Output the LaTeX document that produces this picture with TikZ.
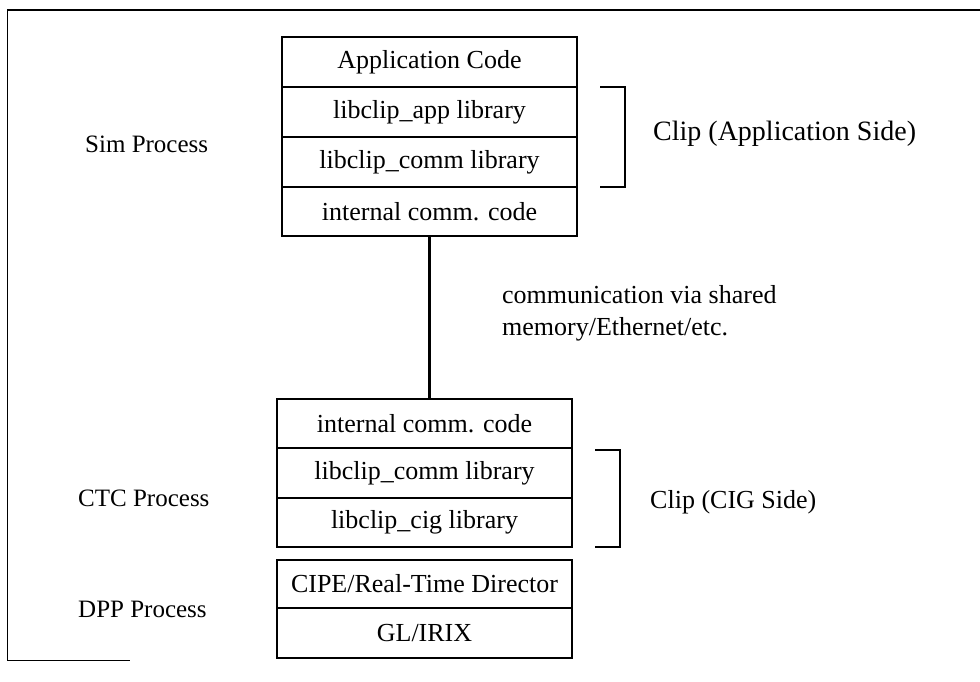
\documentclass[tikz,border=0pt]{standalone}
\usepackage{fontspec}
\setmainfont{Liberation Serif}
\begin{document}
\begin{tikzpicture}[x=1pt,y=-1pt,
  layer/.style={draw, line width=2.6pt, minimum width=295pt, inner sep=0pt, font=\fontsize{26}{30}\selectfont},
  lbl/.style={anchor=west, inner sep=0pt, font=\fontsize{26}{30}\selectfont},
  plbl/.style={anchor=west, inner sep=0pt, font=\fontsize{25}{30}\selectfont},
  brk/.style={line width=2.6pt}]
\useasboundingbox (0,0) rectangle (980,681);
% frame
\draw[line width=2.5pt] (7,10) -- (980,10);
\draw[line width=1pt] (7,10) -- (7,660) -- (130,660);
% top stack
\node[layer, minimum height=50pt] (app) at (429.5,62) {Application Code};
\node[layer, minimum height=50pt] (libapp) at (429.5,112) {libclip\_app library};
\node[layer, minimum height=50pt] (libcomm1) at (429.5,162) {libclip\_comm library};
\node[layer, minimum height=49pt] (int1) at (429.5,211.5) {internal comm. code};
% bottom stack
\node[layer, minimum height=49pt] (int2) at (424.5,423.5) {internal comm. code};
\node[layer, minimum height=50pt] (libcomm2) at (424.5,473) {libclip\_comm library};
\node[layer, minimum height=49pt] (libcig) at (424.5,522.5) {libclip\_cig library};
% DPP stack
\node[layer, minimum height=48pt] (cipe) at (424.5,584) {CIPE/Real-Time Director};
\node[layer, minimum height=50pt] (glirix) at (424.5,633) {GL/IRIX};
% connector
\draw[line width=2.6pt] (int1.south) -- (int1.south |- int2.north);
% brackets
\coordinate (b1a) at (600,87);
\coordinate (b1b) at (625,187);
\draw[brk] (b1a) -- (b1a -| b1b) -- (b1b) -- (b1b -| b1a);
\coordinate (b2a) at (595,450);
\coordinate (b2b) at (620,547);
\draw[brk] (b2a) -- (b2a -| b2b) -- (b2b) -- (b2b -| b2a);
% labels
\node[plbl] (sim) at (85,144) {Sim Process};
\node[lbl, font=\fontsize{28}{32}\selectfont] (clipapp) at (653,134) {Clip (Application Side)};
\node[lbl, align=left, font=\fontsize{26}{32}\selectfont] (commvia) at (502,313) {communication via shared\\memory/Ethernet/etc.};
\node[plbl] (ctc) at (78,498) {CTC Process};
\node[lbl] (clipcig) at (650,502) {Clip (CIG Side)};
\node[plbl] (dpp) at (78,609) {DPP Process};
\end{tikzpicture}
\end{document}
